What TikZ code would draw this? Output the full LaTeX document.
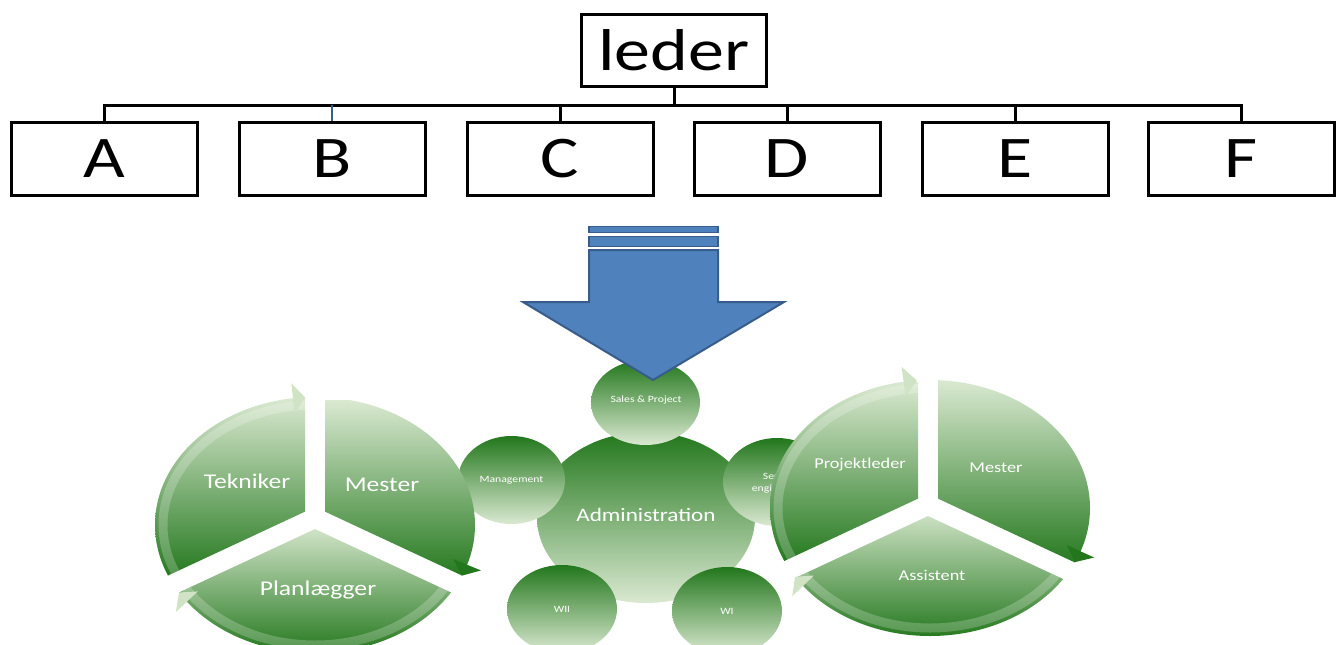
\documentclass[tikz,border=0pt]{standalone}
\usepackage{fontspec}
\setmainfont{Carlito}[FakeStretch=1.22]
\usetikzlibrary{calc}
\definecolor{gdark}{HTML}{22771C}
\definecolor{gmid}{HTML}{86B56A}
\definecolor{glight}{HTML}{DAE9D1}
\definecolor{gpale}{HTML}{D0E3C4}
\definecolor{bfill}{HTML}{4F81BD}
\definecolor{bline}{HTML}{385D8A}
\newcommand\setcyc[6]{\def\hx{#1}\def\hy{#2}\def\ecx{#3}\def\ecy{#4}\def\erx{#5}\def\ery{#6}}
\newcommand\seg[5]{%
  \pgfmathsetmacro\segmid{(#1+#2)/2}%
  \pgfmathsetmacro\segvd{10/sin((#2-#1)/2)}%
  \pgfmathsetmacro\sega{#1+90}%
  \pgfmathsetmacro\segb{#2-90}%
  \begin{scope}
    \clip ($(\hx,\hy)+(\segmid:\segvd)$) -- ($(\hx,\hy)+(\sega:10)+(#1:400)$)
      -- ($(\hx,\hy)+(\segmid:800)$) -- ($(\hx,\hy)+(\segb:10)+(#2:400)$) -- cycle;
    \clip (\ecx,\ecy) ellipse [x radius=\erx, y radius=\ery];
    \shade[top color=glight, middle color=gmid, bottom color=gdark]
      (\ecx-200,#3) rectangle (\ecx+200,#4);
    \draw[white, opacity=#5, line width=9]
      (\ecx,\ecy) ellipse [x radius=\erx-8, y radius=\ery-8];
  \end{scope}}
\newcommand\cycarrow[3]{%
  \pgfmathsetmacro\bx{\ecx+\erx*cos(#1)}%
  \pgfmathsetmacro\by{\ecy+\ery*sin(#1)}%
  \pgfmathsetmacro\tx{\ecx+\erx*cos(#2)}%
  \pgfmathsetmacro\ty{\ecy+\ery*sin(#2)}%
  \pgfmathsetmacro\nx{\ery*cos(#1)/100}%
  \pgfmathsetmacro\ny{\erx*sin(#1)/100}%
  \pgfmathsetmacro\nn{veclen(\nx,\ny)}%
  \pgfmathsetmacro\ux{15*\nx/\nn}%
  \pgfmathsetmacro\uy{15*\ny/\nn}%
  \fill[#3] (\bx+\ux,\by+\uy) -- (\bx-\ux,\by-\uy) -- (\tx,\ty) -- cycle;}
\tikzset{
  orgbox/.style={draw=black, line width=3, minimum width=186, minimum height=73,
    inner sep=0, font=\fontsize{59}{60}\selectfont},
  conn/.style={draw=black, line width=3},
  bubble/.style={top color=gdark, middle color=gmid, bottom color=glight},
  wlabel/.style={text=white, inner sep=0, align=center},
  smalltxt/.style={wlabel, font=\fontsize{9.6}{12}\selectfont},
  midtxt/.style={wlabel, font=\fontsize{15}{17}\selectfont},
  bigtxt/.style={wlabel, font=\fontsize{21}{23}\selectfont},
  arrowpart/.style={fill=bfill, draw=bline, line width=2}
}
\begin{document}
\begin{tikzpicture}[x=1pt, y=1pt]
\useasboundingbox (0,0) rectangle (1341,-645);
% org chart
\node[orgbox, minimum width=185, minimum height=72] (leder) at (674,-50.5) {leder};
\node[orgbox] (A) at (104.5,-159) {A};
\node[orgbox] (B) at (332,-159) {B};
\node[orgbox] (C) at (560,-159) {C};
\node[orgbox] (D) at (787,-159) {D};
\node[orgbox] (E) at (1015,-159) {E};
\node[orgbox] (F) at (1241,-159) {F};
\coordinate (bus) at (674,-105);
\draw[conn] (leder.south) -- (leder.south |- bus);
\draw[conn, line cap=rect] (A.north |- bus) -- (F.north |- bus);
\foreach \n in {A,C,D,E,F} \draw[conn] (\n.north |- bus) -- (\n.north);
\draw[draw=bline, line width=2.5] (B.north |- bus) -- (B.north);
% bubbles
\shade[bubble] (646,-517.5) ellipse [x radius=109, y radius=85.5];
\node[font=\fontsize{19}{21}\selectfont, wlabel] (adm) at (646,-515) {Administration};
\shade[bubble] (645.5,-402.5) ellipse [x radius=54.5, y radius=42.5];
\node[smalltxt] (sales) at (646,-400) {Sales \& Project};
\shade[bubble] (511.5,-480) ellipse [x radius=53.5, y radius=44];
\node[smalltxt] (mgmt) at (511.5,-480) {Management};
\shade[bubble] (777,-482) ellipse [x radius=54, y radius=44];
\node[smalltxt] (serv) at (780,-483) {Service\\engineering};
\shade[bubble] (562,-609) ellipse [x radius=55, y radius=44];
\node[smalltxt] (wii) at (562,-609) {WII};
\shade[bubble] (727,-611) ellipse [x radius=55, y radius=44];
\node[smalltxt] (wi) at (727,-611) {WI};
% blue arrow
\draw[arrowpart, line width=1.5] (589,-226.5) rectangle (718,-232.5);
\draw[arrowpart, line width=1.8] (589,-236.5) rectangle (718,-246.5);
\draw[arrowpart, line join=miter] (589,-250) -- (718,-250) -- (718,-302) -- (784,-302)
  -- (653,-380) -- (523,-302) -- (589,-302) -- cycle;
% left cycle
\setcyc{315}{-518}{315}{-525}{160}{128}
\seg{90}{205}{-397}{-580}{.22}
\seg{-25}{90}{-400}{-580}{0}
\seg{205}{335}{-522}{-655}{.22}
\cycarrow{97.9}{93.6}{gpale}
\cycarrow{-18.1}{-23.3}{gdark}
\cycarrow{216.8}{211.8}{gpale}
\node[bigtxt] (tek) at (247,-481) {Tekniker};
\node[bigtxt] (mes1) at (382,-485) {Mester};
\node[bigtxt] (plan) at (318,-590) {Planlægger};
% right cycle
\setcyc{928}{-505}{930}{-508}{160}{128}
\seg{90}{205}{-382}{-565}{.22}
\seg{-25}{90}{-380}{-568}{0}
\seg{205}{335}{-505}{-640}{.22}
\cycarrow{99.5}{94.7}{gpale}
\cycarrow{-19.8}{-25}{gdark}
\cycarrow{217.5}{212.5}{gpale}
\node[midtxt] (proj) at (860,-465) {Projektleder};
\node[midtxt] (mes2) at (996,-468) {Mester};
\node[midtxt] (ass) at (932,-575) {Assistent};
\end{tikzpicture}
\end{document}
